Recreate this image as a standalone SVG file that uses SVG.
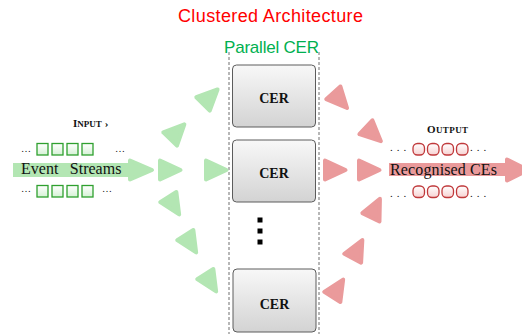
<svg xmlns="http://www.w3.org/2000/svg" xmlns:xlink="http://www.w3.org/1999/xlink" width="522" height="334" viewBox="0 0 522 334">
<style>
.sans{font-family:"Liberation Sans",Arial,sans-serif}
.serif{font-family:"Liberation Serif","Times New Roman",serif;fill:#111}
.box{fill:url(#gBox);stroke:#5c5c5c;stroke-width:1}
.cer{font-family:"Liberation Serif","Times New Roman",serif;font-weight:bold;font-size:14px;fill:#111;text-anchor:middle}
.gt{fill:#b3e6b3;stroke:#b3e6b3;stroke-width:4;stroke-linejoin:round}
.rt{fill:#ea9a9b;stroke:#ea9a9b;stroke-width:4;stroke-linejoin:round}
.sq{fill:url(#gGreen);stroke:#2fa02f;stroke-width:1.3}
.ci{fill:url(#gRed);stroke:#c0393b;stroke-width:1.3}
.dash{stroke:#a0a0a0;stroke-width:1.5;stroke-dasharray:3 2}
</style>
<defs>
<linearGradient id="gBox" x1="0" y1="0" x2="0" y2="1"><stop offset="0" stop-color="#f8f8f8"/><stop offset="1" stop-color="#d3d3d3"/></linearGradient>
<linearGradient id="gGreen" x1="0" y1="0" x2="0" y2="1"><stop offset="0" stop-color="#ffffff"/><stop offset="1" stop-color="#d6f2d6"/></linearGradient>
<linearGradient id="gRed" x1="0" y1="0" x2="0" y2="1"><stop offset="0" stop-color="#ffffff"/><stop offset="1" stop-color="#f7d2d2"/></linearGradient>
<polygon id="tri" points="-7,-9.5 -7,9.5 13.5,0"/>
</defs>

<g id="title">
<text class="sans" x="178" y="22" font-size="18" fill="#ff0000" textLength="185" lengthAdjust="spacing">Clustered Architecture</text>
<text class="sans" x="224" y="53" font-size="17" fill="#00b050" textLength="95" lengthAdjust="spacing">Parallel CER</text>
</g>

<g id="cluster-bounds">
<line class="dash" x1="229" y1="52" x2="229" y2="334"/>
<line class="dash" x1="319" y1="52" x2="319" y2="334"/>
</g>

<g id="connectors">
<rect x="13" y="163" width="118" height="14" fill="#b3e6b3"/>
<polygon class="gt" points="130,160.5 130,179.5 152,170" stroke-width="3"/>
<use href="#tri" class="gt" transform="translate(208,99) rotate(-45)"/>
<use href="#tri" class="gt" transform="translate(175,134) rotate(-46)"/>
<use href="#tri" class="gt" transform="translate(167,170)"/>
<use href="#tri" class="gt" transform="translate(213,170)"/>
<use href="#tri" class="gt" transform="translate(172,203) rotate(58)"/>
<use href="#tri" class="gt" transform="translate(189,241) rotate(58)"/>
<use href="#tri" class="gt" transform="translate(209,280) rotate(58)"/>

<rect x="389" y="163" width="119" height="13" fill="#ea9a9b"/>
<polygon class="rt" points="507,159.5 507,180.5 528,170" stroke-width="3"/>
<use href="#tri" class="rt" transform="translate(338,98) rotate(48)"/>
<use href="#tri" class="rt" transform="translate(371,132) rotate(43)"/>
<use href="#tri" class="rt" transform="translate(332,170)"/>
<use href="#tri" class="rt" transform="translate(366,170)"/>
<use href="#tri" class="rt" transform="translate(374,211) rotate(-64)"/>
<use href="#tri" class="rt" transform="translate(356,252) rotate(-62)"/>
<use href="#tri" class="rt" transform="translate(336,291) rotate(-58)"/>
</g>

<g id="input">
<text class="serif" x="73" y="127" font-weight="bold"><tspan font-size="11">I</tspan><tspan font-size="9">NPUT</tspan><tspan font-size="11" dx="3">›</tspan></text>
<text class="serif" x="21" y="152" font-size="10">…</text>
<rect class="sq" x="37" y="143.5" width="11" height="11.5"/>
<rect class="sq" x="52" y="143.5" width="11" height="11.5"/>
<rect class="sq" x="67" y="143.5" width="11" height="11.5"/>
<rect class="sq" x="82" y="143.5" width="11" height="11.5"/>
<text class="serif" x="115" y="152" font-size="10">…</text>
<text class="serif" x="21" y="173.5" font-size="16" word-spacing="7.5">Event Streams</text>
<text class="serif" x="21" y="192" font-size="10">…</text>
<rect class="sq" x="37" y="185.5" width="11" height="11.5"/>
<rect class="sq" x="52" y="185.5" width="11" height="11.5"/>
<rect class="sq" x="67" y="185.5" width="11" height="11.5"/>
<rect class="sq" x="82" y="185.5" width="11" height="11.5"/>
<text class="serif" x="102" y="192" font-size="10">…</text>
</g>

<g id="cer1">
<rect class="box" x="232.5" y="65" width="83" height="62" rx="4"/>
<text class="cer" x="274" y="103">CER</text>
</g>
<g id="cer2">
<rect class="box" x="232.5" y="140" width="83" height="62" rx="4"/>
<text class="cer" x="274" y="177.5">CER</text>
</g>
<g id="more">
<rect x="257.5" y="217.5" width="5" height="5" fill="#000"/>
<rect x="257.5" y="228.5" width="5" height="5" fill="#000"/>
<rect x="257.5" y="239.5" width="5" height="5" fill="#000"/>
</g>
<g id="cer3">
<rect class="box" x="233" y="269" width="83" height="63" rx="4"/>
<text class="cer" x="274.5" y="309">CER</text>
</g>

<g id="output">
<text class="serif" x="427" y="133" font-weight="bold" letter-spacing="0.4"><tspan font-size="11">O</tspan><tspan font-size="9">UTPUT</tspan></text>
<text class="serif" x="390" y="151" font-size="11" letter-spacing="4">...</text>
<rect class="ci" x="413" y="143.5" width="11.5" height="11.5" rx="4.5"/>
<rect class="ci" x="427.5" y="143.5" width="11.5" height="11.5" rx="4.5"/>
<rect class="ci" x="442" y="143.5" width="11.5" height="11.5" rx="4.5"/>
<rect class="ci" x="456.5" y="143.5" width="11.5" height="11.5" rx="4.5"/>
<text class="serif" x="470" y="151" font-size="11" letter-spacing="4">...</text>
<text class="serif" x="390" y="175" font-size="16" textLength="107" lengthAdjust="spacing">Recognised CEs</text>
<text class="serif" x="390" y="197" font-size="11" letter-spacing="4">...</text>
<rect class="ci" x="413" y="186" width="11.5" height="11.5" rx="4.5"/>
<rect class="ci" x="427.5" y="186" width="11.5" height="11.5" rx="4.5"/>
<rect class="ci" x="442" y="186" width="11.5" height="11.5" rx="4.5"/>
<rect class="ci" x="456.5" y="186" width="11.5" height="11.5" rx="4.5"/>
<text class="serif" x="470" y="197" font-size="11" letter-spacing="4">...</text>
</g>
</svg>
